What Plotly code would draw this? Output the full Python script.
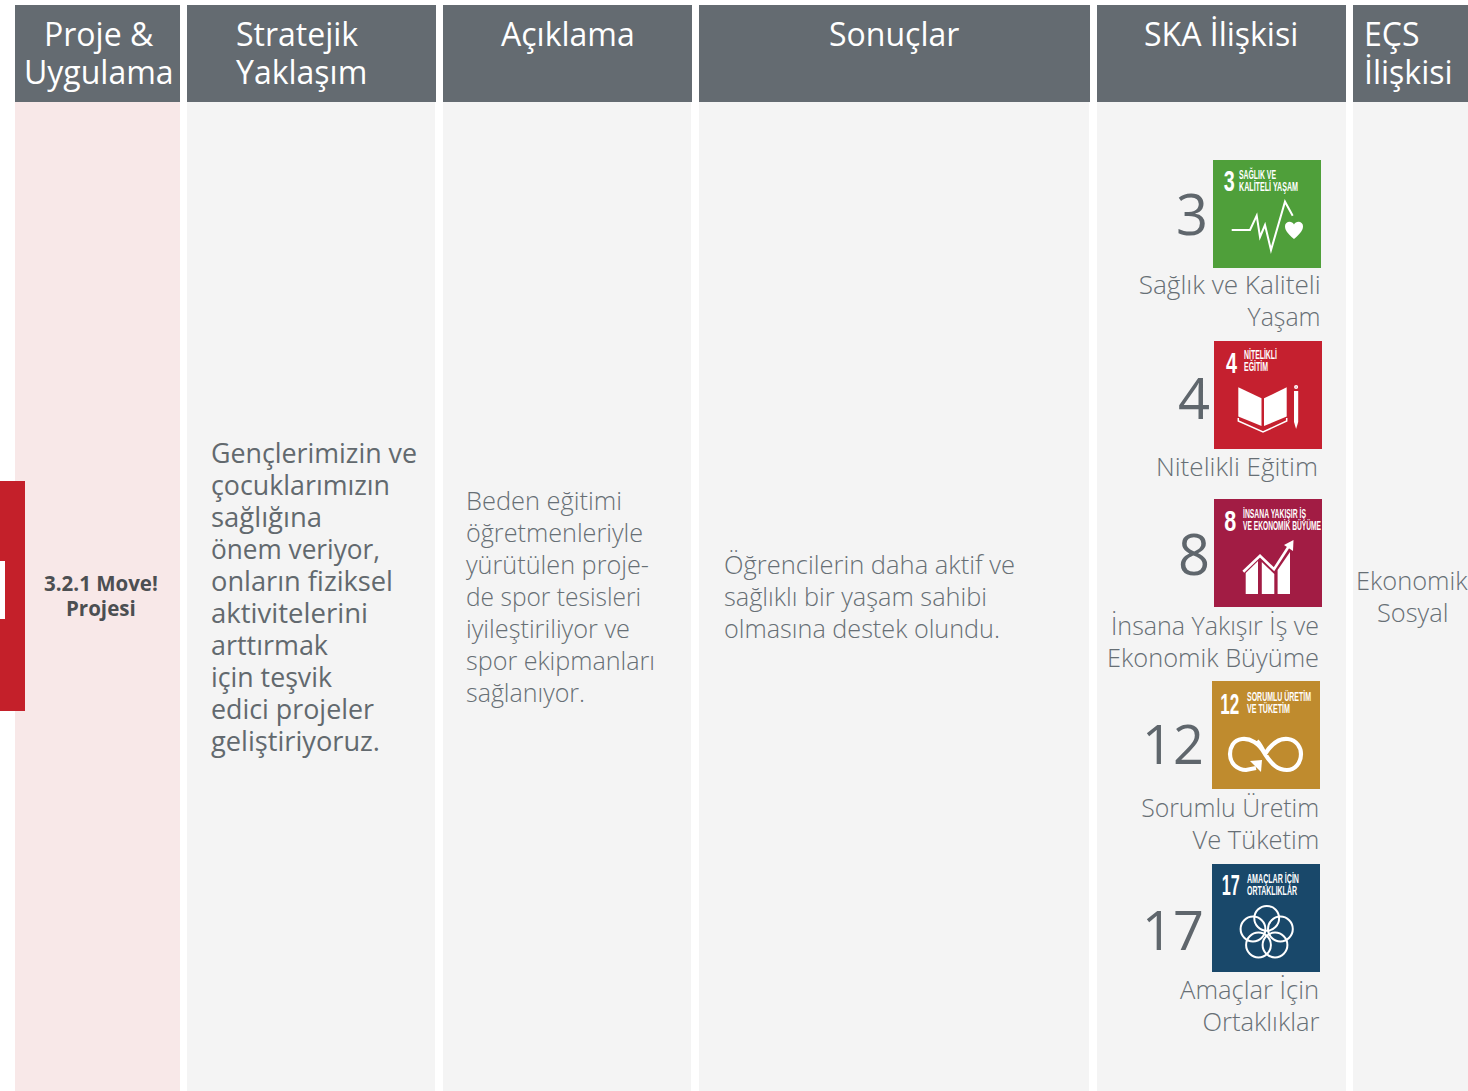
import json
import plotly.graph_objects as go

W, H = 1468, 1091
FONT = "Open Sans"
BADGE_FONT = "Liberation Sans"
HEADER_BG = "#646B71"
BODY_BG = "#F4F4F4"
PINK_BG = "#F8E8E8"
RED = "#C4202A"
TEXT_GREY = "#676F75"
TEXT_MED = "#62696E"
TEXT_DARK = "#4C4F52"
NUM_GREY = "#5F666C"
BADGE_SIZE = 30
TITLE_SIZE = 12

# Column extents (left, right, body right)
col_left = [15, 187, 443, 699, 1097, 1353]
col_right = [180, 436, 692, 1090, 1346, 1468]
col_body_right = [180, 435, 691, 1089, 1346, 1468]
col_bg = [PINK_BG, BODY_BG, BODY_BG, BODY_BG, BODY_BG, BODY_BG]

# Header text: (line, anchor, x, y)
header_text = [
    ("Proje &", "center", 98.5, 33), ("Uygulama", "center", 98.5, 71),
    ("Stratejik", "left", 234, 33), ("Yaklaşım", "left", 234, 71),
    ("Açıklama", "center", 567.5, 33),
    ("Sonuçlar", "center", 894, 33),
    ("SKA İlişkisi", "center", 1221, 33),
    ("EÇS", "left", 1362, 33), ("İlişkisi", "left", 1362, 71),
]

project_lines = ["3.2.1 Move!", "Projesi"]
project_y = [583, 608]

strategy_lines = ["Gençlerimizin ve", "çocuklarımızın", "sağlığına", "önem veriyor,",
                  "onların fiziksel", "aktivitelerini", "arttırmak", "için teşvik",
                  "edici projeler", "geliştiriyoruz."]
strategy_widths = [206, 179, 111, 169, 182, 157, 117, 121, 163, 169]
description_lines = ["Beden eğitimi", "öğretmenleriyle", "yürütülen proje-", "de spor tesisleri",
                     "iyileştiriliyor ve", "spor ekipmanları", "sağlanıyor."]
description_widths = [156, 177, 183, 175, 164, 189, 119]
result_lines = ["Öğrencilerin daha aktif ve", "sağlıklı bir yaşam sahibi", "olmasına destek olundu."]
result_widths = [291, 263, 276]
ecs_lines = ["Ekonomik", "Sosyal"]

# SDG blocks
sdg_numbers = ["3", "4", "8", "12", "17"]
sdg_colors = ["#4F9F3A", "#C5202F", "#A21C44", "#BF8B2E", "#19486A"]
sdg_x = [1213, 1214, 1214, 1212, 1212]
sdg_y = [160, 341, 499, 681, 864]
sdg_num_size = [56, 56, 56, 54, 54]
sdg_num_right = [1210, 1212, 1212, 1206, 1206]
sdg_num_y = [213, 397, 553, 743, 929]
sdg_label_lines = [["Sağlık ve Kaliteli", "Yaşam"], ["Nitelikli Eğitim"],
                   ["İnsana Yakışır İş ve", "Ekonomik Büyüme"],
                   ["Sorumlu Üretim", "Ve Tüketim"], ["Amaçlar İçin", "Ortaklıklar"]]
sdg_label_widths = [[182, 73], [162], [208, 212], [178, 127], [139, 117]]
sdg_label_right = [1323, 1320, 1321, 1321, 1321]
sdg_label_y = [284, 466, 625, 807, 989]
sdg_icon_titles = [["SAĞLIK VE", "KALİTELİ YAŞAM"], ["NİTELİKLİ", "EĞİTİM"],
                   ["İNSANA YAKIŞIR İŞ", "VE EKONOMİK BÜYÜME"],
                   ["SORUMLU ÜRETİM", "VE TÜKETİM"], ["AMAÇLAR İÇİN", "ORTAKLIKLAR"]]
sdg_title_widths = [[37, 59], [33, 24], [63, 78], [64, 43], [52, 50]]
sdg_title_dx = [24, 28, 27, 33, 33]
sdg_title_dy = [14, 13, 14, 15, 14]
sdg_badge_widths = [11, 11, 12, 19, 18]
sdg_badge_dx = [16, 17, 16, 17, 18]
sdg_badge_dy = [20, 21, 21, 22, 20]

shapes, annotations = [], []


def rect(x0, y0, x1, y1, color):
    shapes.append(dict(type="rect", x0=x0, y0=y0, x1=x1, y1=y1, fillcolor=color,
                       line=dict(width=0), layer="below"))


def text(s, x, y, anchor="left", size=25.4, color=TEXT_GREY, weight=300, family=FONT):
    annotations.append(dict(text=s, x=x, y=y, xref="x", yref="y", xanchor=anchor, yanchor="middle",
                            showarrow=False, align=anchor,
                            font=dict(family=family, size=size, color=color, weight=weight)))


def stack(lines, x, y0, anchor="left", step=32, **kw):
    for i, s in enumerate(lines):
        text(s, x, y0 + i * step, anchor, **kw)


def path(ox, oy, d, fill=None, stroke=None, width=0):
    out = []
    for tok in d:
        if isinstance(tok, str):
            out.append(tok)
        else:
            out.append(f"{ox + tok[0]:.2f} {oy + tok[1]:.2f}")
    spec = dict(type="path", path=" ".join(out), layer="above")
    spec["fillcolor"] = fill if fill else "rgba(0,0,0,0)"
    spec["line"] = dict(color=stroke, width=width) if stroke else dict(width=0)
    shapes.append(spec)


def poly(ox, oy, pts, close=True, **kw):
    d = ["M", pts[0]]
    for p in pts[1:]:
        d += ["L", p]
    if close:
        d.append("Z")
    path(ox, oy, d, **kw)


def circle(ox, oy, cx, cy, r, color, width):
    shapes.append(dict(type="circle", x0=ox + cx - r, x1=ox + cx + r, y0=oy + cy - r, y1=oy + cy + r,
                       line=dict(color=color, width=width), layer="above"))


def icon_health(ox, oy):
    poly(ox, oy, [(18.7, 70), (37, 70), (43.7, 55.7), (47, 77), (52, 65), (58, 90), (72, 41.7), (79.7, 55.7)],
         close=False, stroke="white", width=2)
    path(ox, oy, ["M", (81, 79), "C", (74, 73), (72, 70), (72, 66), "C", (72, 61), (79, 60), (81, 64.5),
                  "C", (83, 60), (90, 61), (90, 66), "C", (90, 70), (88, 73), (81, 79), "Z"], fill="white")


def icon_book(ox, oy):
    poly(ox, oy, [(24.3, 46.3), (47.5, 57.3), (47.5, 85), (24.3, 75.5)], fill="white")
    poly(ox, oy, [(50, 57.3), (72.7, 46.3), (72.7, 75.5), (50, 85)], fill="white")
    poly(ox, oy, [(24.3, 77), (24.3, 80), (49, 91), (72.7, 80), (72.7, 77)], close=False, stroke="white", width=1.5)
    poly(ox, oy, [(80, 50), (84.2, 50), (84.2, 81), (82.1, 88), (80, 81)], fill="white")
    circle(ox, oy, 82.1, 46, 1.3, "white", 1.5)


def icon_growth(ox, oy):
    poly(ox, oy, [(31.7, 74), (44, 62), (44, 95), (31.7, 95)], fill="white")
    poly(ox, oy, [(47.8, 63), (54, 69), (60.3, 75), (60.3, 95), (47.8, 95)], fill="white")
    poly(ox, oy, [(63.6, 71), (76, 53), (76, 95), (63.6, 95)], fill="white")
    poly(ox, oy, [(29.3, 72.7), (46, 56.7), (60, 70.3), (75, 47)], close=False, stroke="white", width=2.6)
    poly(ox, oy, [(79.5, 41), (79, 52), (70, 46)], fill="white")


def icon_infinity(ox, oy):
    path(ox, oy, ["M", (53, 73), "C", (47, 62), (38, 57), (30, 58), "C", (21, 59), (18, 67), (18, 73),
                  "C", (18, 83), (26, 89), (34, 89), "L", (44, 87),
                  "M", (53, 73), "C", (60, 62), (68, 57), (76, 58), "C", (85, 59), (89, 67), (89, 73),
                  "C", (89, 82), (83, 89), (75, 89), "C", (66, 89), (60, 84), (53, 73),
                  "C", (50, 67), (47, 62), (45, 60)], stroke="white", width=4.2)
    poly(ox, oy, [(38, 80), (50, 79), (49, 91)], fill="white")


def icon_flower(ox, oy):
    for cx, cy in [(54.7, 54.3), (41, 65), (68.4, 65), (46.5, 81), (63, 81)]:
        circle(ox, oy, cx, cy, 12.4, "white", 2)


icon_painters = [icon_health, icon_book, icon_growth, icon_infinity, icon_flower]

# Columns
for l, r, br, bg in zip(col_left, col_right, col_body_right, col_bg):
    rect(l, 102, br, H, bg)
    rect(l, 5, r, 102, HEADER_BG)

# Red marker on the left
rect(0, 481, 25, 711, RED)
rect(0, 561, 5, 619, "white")

for s, anchor, x, y in header_text:
    text(s, x, y, anchor, size=32, color="#FFFFFF", weight=400)

for s, y in zip(project_lines, project_y):
    text(s, 101, y, "center", size=20.5, color=TEXT_DARK, weight=700)

stack(strategy_lines, 209, 452, size=27, color=TEXT_MED, weight=400)
stack(description_lines, 464, 500)
stack(result_lines, 722, 564)
stack(ecs_lines, 1412, 580, "center")

# Text -> [width, anchor] for strings squeezed or stretched to the measured width.
fit_lines = {}
fit_lines.update({s: [w, "start"] for s, w in zip(strategy_lines, strategy_widths)})
fit_lines.update({s: [w, "start"] for s, w in zip(description_lines, description_widths)})
fit_lines.update({s: [w, "start"] for s, w in zip(result_lines, result_widths)})
fit_badges = {}

for i, n in enumerate(sdg_numbers):
    ox, oy = sdg_x[i], sdg_y[i]
    rect(ox, oy, ox + 108, oy + 108, sdg_colors[i])
    text(n, sdg_num_right[i], sdg_num_y[i], "right", size=sdg_num_size[i], color=NUM_GREY, weight=400)
    stack(sdg_label_lines[i], sdg_label_right[i], sdg_label_y[i], "right")
    fit_lines.update({s: [w, "end"] for s, w in zip(sdg_label_lines[i], sdg_label_widths[i])})
    text(n, ox + sdg_badge_dx[i], oy + sdg_badge_dy[i], "center", size=BADGE_SIZE, color="white", weight=700,
         family=BADGE_FONT)
    fit_badges[n] = sdg_badge_widths[i]
    for j, t in enumerate(sdg_icon_titles[i]):
        text(t, ox + sdg_title_dx[i], oy + sdg_title_dy[i] + j * 12.5, "left", size=TITLE_SIZE, color="white",
             weight=700, family=BADGE_FONT)
        fit_lines[t] = [sdg_title_widths[i][j], "start"]
    icon_painters[i](ox, oy)

fig = go.Figure()
fig.update_layout(
    width=W, height=H, margin=dict(l=0, r=0, t=0, b=0, pad=0),
    paper_bgcolor="white", plot_bgcolor="white", showlegend=False,
    xaxis=dict(range=[0, W], visible=False, fixedrange=True),
    yaxis=dict(range=[H, 0], visible=False, fixedrange=True),
    shapes=shapes, annotations=annotations,
)

# The reference face is narrower in places: fit those strings to their measured widths.
post = """
document.body.style.margin='0';
document.documentElement.style.overflow='hidden';
var fitLines = %s, fitBadges = %s;
document.querySelectorAll('text.annotation-text').forEach(function(el){
  var s = el.textContent, size = parseFloat(el.style.fontSize), w = null, a = 'start';
  if (size === %d && fitBadges[s]) { w = fitBadges[s]; a = 'middle'; }
  else if (fitLines[s]) { w = fitLines[s][0]; a = fitLines[s][1]; }
  if (w === null) return;
  var b = el.getBBox();
  var x = a === 'start' ? b.x : (a === 'end' ? b.x + b.width - w : b.x + (b.width - w) / 2);
  el.setAttribute('text-anchor', 'start');
  el.setAttribute('x', x);
  el.setAttribute('textLength', w);
  el.setAttribute('lengthAdjust', 'spacingAndGlyphs');
});
""" % (json.dumps(fit_lines, ensure_ascii=False), json.dumps(fit_badges), BADGE_SIZE)

fig.write_html("out.html", config={"displayModeBar": False}, post_script=post)
